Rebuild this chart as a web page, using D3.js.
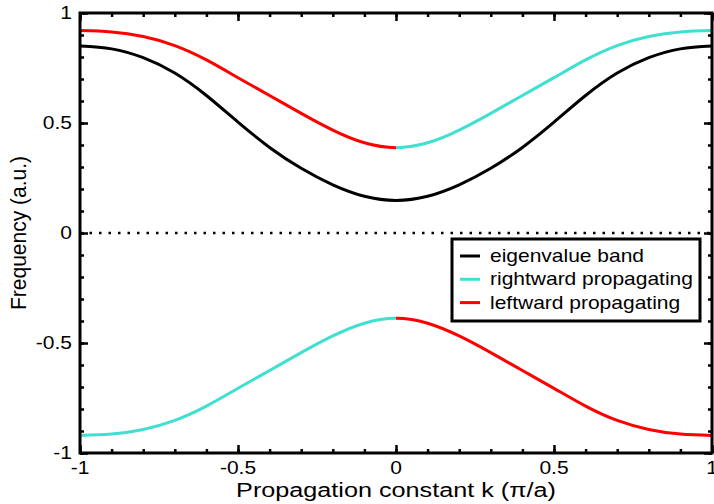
<!DOCTYPE html>
<html>
<head>
<meta charset="utf-8">
<script src="https://cdn.jsdelivr.net/npm/d3@7"></script>
<style>
	body { margin: 0; background: #fff; }
	svg text { font-family: "Liberation Sans", Arial, sans-serif; fill: #000; }
</style>
</head>
<body>
<div id="chart"></div>
<script>
// values, k in steps of 0.1
var kValues = [-1, -0.9, -0.8, -0.7, -0.6, -0.5, -0.4, -0.3, -0.2, -0.1, 0,
	0.1, 0.2, 0.3, 0.4, 0.5, 0.6, 0.7, 0.8, 0.9, 1];
var eigenBand = [0.850, 0.837, 0.797, 0.727, 0.625, 0.504, 0.389, 0.294, 0.219, 0.167, 0.148,
	0.167, 0.219, 0.294, 0.389, 0.504, 0.625, 0.727, 0.797, 0.837, 0.850];
var upperBand = [0.920, 0.914, 0.893, 0.852, 0.787, 0.706, 0.625, 0.544, 0.468, 0.410, 0.388,
	0.410, 0.468, 0.544, 0.625, 0.706, 0.787, 0.852, 0.893, 0.914, 0.920];
var lowerBand = [-0.920, -0.914, -0.893, -0.852, -0.787, -0.706, -0.625, -0.544, -0.468, -0.410, -0.388,
	-0.410, -0.468, -0.544, -0.625, -0.706, -0.787, -0.852, -0.893, -0.914, -0.920];
var xTicks = [-1, -0.5, 0, 0.5, 1];
var xTickLabels = ['-1', '-0.5', '0', '0.5', '1'];
var yTicks = [-1, -0.5, 0, 0.5, 1];
var yTickLabels = ['-1', '-0.5', '0', '0.5', '1'];
var minorTicks = d3.range(-10, 11).map(function(i) { return i / 10; });
var legendLabels = ['eigenvalue band', 'rightward propagating', 'leftward propagating'];

var width = 714, height = 504,
	plotLeft = 80, plotRight = 712, plotTop = 13, plotBottom = 453,
	red = '#ff0000', cyan = '#40e0d0',
	fontSize = 17.5, titleSize = 21, stretch = 1.2;

var x = d3.scaleLinear().domain([-1, 1]).range([plotLeft, plotRight]);
var y = d3.scaleLinear().domain([-1, 1]).range([plotBottom, plotTop]);

var svg = d3.select('#chart')
	.append('svg')
	.attr('width', width)
	.attr('height', height);

var defs = svg.append('defs');
defs.append('clipPath').attr('id', 'clip-left')
	.append('rect').attr('x', 0).attr('y', 0).attr('width', x(0)).attr('height', height);
defs.append('clipPath').attr('id', 'clip-right')
	.append('rect').attr('x', x(0)).attr('y', 0).attr('width', width - x(0)).attr('height', height);

// zero line, dotted
svg.append('line')
	.attr('x1', x(-1)).attr('x2', x(1))
	.attr('y1', y(0)).attr('y2', y(0))
	.attr('stroke', '#000')
	.attr('stroke-width', 2.5)
	.attr('stroke-dasharray', '2.5,7');

function series(values) {
	return kValues.map(function(k, i) { return [k, values[i]]; });
}

var line = d3.line()
	.x(function(d) { return x(d[0]); })
	.y(function(d) { return y(d[1]); })
	.curve(d3.curveNatural);

var curves = [
	{ data: eigenBand, color: '#000', clip: null },
	{ data: upperBand, color: red, clip: 'clip-left' },
	{ data: upperBand, color: cyan, clip: 'clip-right' },
	{ data: lowerBand, color: cyan, clip: 'clip-left' },
	{ data: lowerBand, color: red, clip: 'clip-right' }
];

svg.append('g')
	.selectAll('path')
	.data(curves)
	.enter()
	.append('path')
	.attr('d', function(d) { return line(series(d.data)); })
	.attr('fill', 'none')
	.attr('stroke', function(d) { return d.color; })
	.attr('stroke-width', 3)
	.attr('clip-path', function(d) { return d.clip ? 'url(#' + d.clip + ')' : null; });

// inward ticks on all four sides
function tickAxis(axisFn, scale, values, size, transform) {
	var g = svg.append('g')
		.attr('transform', transform)
		.call(axisFn(scale).tickValues(values).tickSize(size).tickFormat(''));
	g.select('.domain').remove();
	g.selectAll('.tick line').attr('stroke', '#000').attr('stroke-width', 2.5);
}

tickAxis(d3.axisBottom, x, minorTicks, -4, 'translate(0,' + plotBottom + ')');
tickAxis(d3.axisBottom, x, xTicks, -8, 'translate(0,' + plotBottom + ')');
tickAxis(d3.axisTop, x, minorTicks, -4, 'translate(0,' + plotTop + ')');
tickAxis(d3.axisTop, x, xTicks, -8, 'translate(0,' + plotTop + ')');
tickAxis(d3.axisLeft, y, minorTicks, -4, 'translate(' + plotLeft + ',0)');
tickAxis(d3.axisLeft, y, yTicks, -8, 'translate(' + plotLeft + ',0)');
tickAxis(d3.axisRight, y, minorTicks, -4, 'translate(' + plotRight + ',0)');
tickAxis(d3.axisRight, y, yTicks, -8, 'translate(' + plotRight + ',0)');

// frame
svg.append('rect')
	.attr('x', plotLeft).attr('y', plotTop)
	.attr('width', plotRight - plotLeft).attr('height', plotBottom - plotTop)
	.attr('fill', 'none')
	.attr('stroke', '#000')
	.attr('stroke-width', 3);

function stretchedText(g, tx, ty, str, anchor, size) {
	return g.append('text')
		.attr('transform', 'translate(' + tx + ' ' + ty + ') scale(' + stretch + ' 1)')
		.attr('text-anchor', anchor)
		.attr('font-size', size || fontSize)
		.text(str);
}

// tick labels
var labels = svg.append('g');
xTicks.forEach(function(v, i) {
	stretchedText(labels, x(v), 474, xTickLabels[i], 'middle');
});
yTicks.forEach(function(v, i) {
	stretchedText(labels, 72, y(v) + 6, yTickLabels[i], 'end');
});

// axis titles
stretchedText(svg, x(0), 497, 'Propagation constant k (\u03c0/a)', 'middle', titleSize);
svg.append('text')
	.attr('transform', 'translate(26 ' + y(0) + ') rotate(-90) scale(1 1.05)')
	.attr('text-anchor', 'middle')
	.attr('font-size', titleSize)
	.text('Frequency (a.u.)');

// legend
var legend = svg.append('g');
legend.append('rect')
	.attr('x', 452).attr('y', 239)
	.attr('width', 248).attr('height', 82)
	.attr('fill', '#fff')
	.attr('stroke', '#000')
	.attr('stroke-width', 3);

var legendColors = ['#000', cyan, red];
legendLabels.forEach(function(label, i) {
	var ly = 256 + i * 23.3;
	legend.append('line')
		.attr('x1', 460).attr('x2', 480)
		.attr('y1', ly).attr('y2', ly)
		.attr('stroke', legendColors[i])
		.attr('stroke-width', 3);
	stretchedText(legend, 490, ly + 6, label, 'start');
});
</script>
</body>
</html>
